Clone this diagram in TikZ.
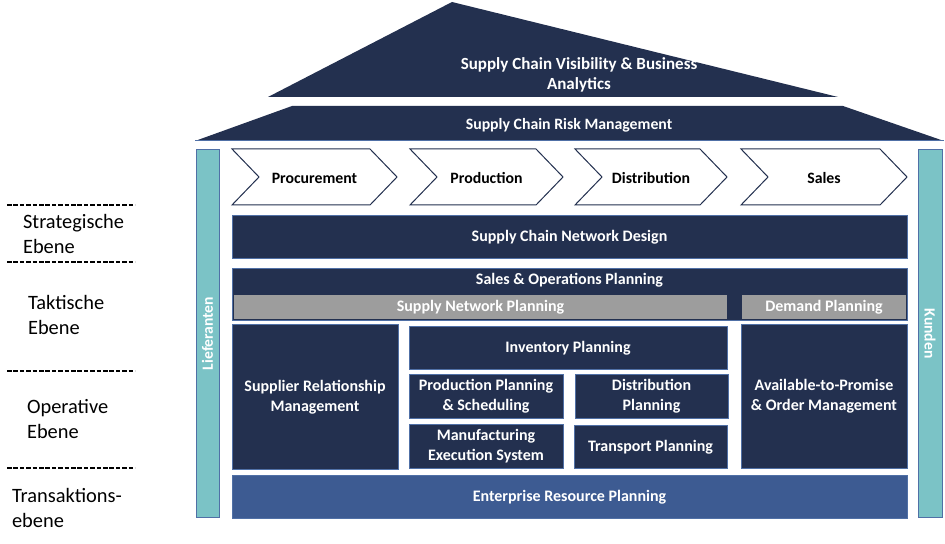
\documentclass[tikz,border=0pt]{standalone}
\usepackage{fontspec}
\setmainfont{Carlito}
\usetikzlibrary{math}
\definecolor{navy}{HTML}{23304F}
\definecolor{edge}{HTML}{5070A6}
\definecolor{erpblue}{HTML}{3D5B92}
\definecolor{snpgrey}{HTML}{9D9D9D}
\definecolor{sideteal}{HTML}{7BC3C6}

\begin{document}
\begin{tikzpicture}[x=0.5pt, y=-0.5pt,
  wh/.style 2 args={minimum width=#1*0.5pt, minimum height=#2*0.5pt},
  blk/.style={fill=navy, draw=edge, line width=0.5pt, inner sep=0pt, text=white, align=center, yshift=-0.8pt, font=\bfseries\fontsize{8}{10}\selectfont},
  gbox/.style={fill=snpgrey, inner sep=0pt, text=white, yshift=-1pt, font=\bfseries\fontsize{8}{10}\selectfont},
  side/.style={fill=sideteal, draw=edge, line width=0.5pt, inner sep=0pt},
  sidetxt/.style={text=white, font=\bfseries\fontsize{7.8}{9.6}\selectfont},
  chev/.style={fill=white, draw=navy, line width=0.5pt},
  ctxt/.style={font=\bfseries\fontsize{7.9}{9.6}\selectfont},
  rooftxt/.style={text=white, align=center, font=\bfseries\fontsize{8.5}{10}\selectfont},
  lvl/.style={anchor=west, align=left, font=\fontsize{10.2}{12.4}\selectfont},
  sep/.style={line width=0.6pt, dash pattern=on 2.3pt off 0.9pt}]
\tikzmath{
\d=27;
}
\useasboundingbox (0,0) rectangle (945,544);

% roof
\fill[navy] (268,97) -- (452,2) -- (838,97) -- cycle;
\node[rooftxt] (vis) at (579,74.5) {Supply Chain Visibility \& Business\\Analytics};
\fill[navy] (292,106) -- (843,106) -- (944,141) -- (195,141) -- cycle;
\draw[edge, line width=0.5pt] (195,141) -- (944,141);
\node[rooftxt, font=\bfseries\fontsize{7.9}{10}\selectfont] (risk) at (569,125) {Supply Chain Risk Management};

% Lieferanten / Kunden
\node[side, wh={23}{367}] (lief) at (207.5,333.5) {};
\node[sidetxt, rotate=90] (lieftxt) at (lief.center) {Lieferanten};
\node[side, wh={24}{367}] (kund) at (930,333.5) {};
\node[sidetxt, rotate=-90] (kundtxt) at (kund.center) {Kunden};

% value chain
\foreach \xa/\xb/\nm/\txt in {232/397/proc/Procurement, 410/563/prod/Production, 575/727/dist/Distribution, 741/907/sales/Sales}{
  \draw[chev] (\xa,149) -- (\xb-\d,149) -- (\xb,177) -- (\xb-\d,205) -- (\xa,205) -- (\xa+\d,177) -- cycle;
  \node[ctxt] (\nm) at ({(\xa+\xb)/2},178) {\txt};
}

% strategic / tactical
\node[blk, wh={675}{43}] (scnd) at (569.5,235.5) {Supply Chain Network Design};
\node[blk, wh={675}{52}] (sop) at (569.5,293) {};
\node[blk, fill=none, draw=none] (soptxt) at (569.5,279) {Sales \& Operations Planning};
\node[gbox, wh={493}{24}] (snp) at (480.5,305) {Supply Network Planning};
\node[gbox, wh={164}{24}] (dp) at (824,305) {Demand Planning};

% operative
\node[blk, wh={166}{145}] (srm) at (315,395.5) {Supplier Relationship\\Management};
\node[blk, wh={318}{43}] (inv) at (568,346.5) {Inventory Planning};
\node[blk, wh={154}{44}] (pps) at (486,395) {Production Planning\\\& Scheduling};
\node[blk, wh={154}{44}] (mes) at (486,445) {Manufacturing\\Execution System};
\node[blk, wh={153}{44}] (dplan) at (651.5,395) {Distribution\\Planning};
\node[blk, wh={153}{43}] (tp) at (650.5,445.5) {Transport Planning};
\node[blk, wh={166}{144}] (atp) at (824,395) {Available-to-Promise\\\& Order Management};

% transactional
\node[blk, fill=erpblue, wh={675}{43}] (erp) at (569.5,495.5) {Enterprise Resource Planning};

% levels
\draw[sep] (7,205) -- (135,205);
\draw[sep] (7,262) -- (135,262);
\draw[sep] (7,371) -- (135,371);
\draw[sep] (7,468) -- (135,468);
\node[lvl] (strat) at (16,234) {Strategische\\Ebene};
\node[lvl] (takt) at (21,315) {Taktische\\Ebene};
\node[lvl] (oper) at (20,419) {Operative\\Ebene};
\node[lvl] (trans) at (5,508) {Transaktions-\\ebene};
\end{tikzpicture}
\end{document}
